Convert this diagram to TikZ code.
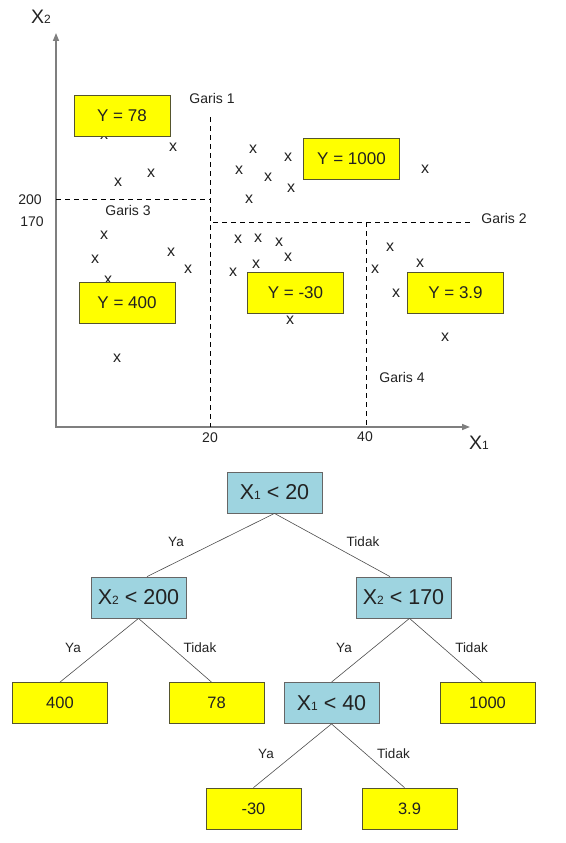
\documentclass[tikz,border=0pt]{standalone}
\usepackage{fontspec}
\setmainfont{Liberation Sans}
\usetikzlibrary{arrows.meta}
\definecolor{kuning}{HTML}{FFFF00}
\definecolor{biru}{HTML}{9ED4E0}
\definecolor{garisbox}{HTML}{55552E}
\definecolor{sumbu}{HTML}{7F7F7F}
\definecolor{teks}{HTML}{222222}
\newcommand{\fs}[1]{\fontsize{#1}{#1}\selectfont}
\newcommand{\sub}[1]{{\fontsize{12}{12}\selectfont #1}}

\begin{document}
\begin{tikzpicture}[x=1pt,y=-1pt,
    every node/.style={text=teks},
    ybox/.style={draw=garisbox,fill=kuning,line width=0.8pt,minimum width=96pt,minimum height=41pt,inner sep=0pt,font=\fs{17}},
    leaf/.style={ybox,minimum width=95pt,font=\fs{16.5}},
    uji/.style={draw=black!60,fill=biru,line width=0.8pt,minimum width=95pt,minimum height=41pt,inner sep=0pt,font=\fs{21.5}},
    garis/.style={dash pattern=on 5pt off 4pt,line width=0.7pt},
    lbl/.style={font=\fs{14}},
    ket/.style={font=\fs{13.5}},
    tanda/.style={font=\fs{16},inner sep=0pt},
    cab/.style={draw=black!70,line width=0.6pt}]
        \useasboundingbox (0,0) rectangle (565,843);

        % sumbu
        \coordinate (ujungy) at (56,33);
        \coordinate (o) at (56,427);
        \coordinate (ujungx) at (470,427);
        \draw[sumbu,line width=1.5pt,{Triangle[length=8pt,width=6pt]}-{Triangle[length=8pt,width=6pt]}] (ujungy) -- (o) -- (ujungx);

        \node[font=\fs{19.5}] (lx2) at (41,17) {X\sub{2}};
        \node[font=\fs{19.5}] (lx1) at (479,443) {X\sub{1}};
        \node[lbl] (t200) at (30,200) {200};
        \node[lbl] (t170) at (32,222) {170};
        \node[lbl] (t20) at (210,438) {20};
        \node[lbl] (t40) at (365,437) {40};

        % garis pemisah
        \draw[garis] (210,117) -- (210,427);
        \draw[garis] (56,199) -- (210,199);
        \draw[garis] (213,222) -- (472,222);
        \draw[garis] (366,222) -- (366,427);

        \node[lbl] (g1) at (212,98) {Garis 1};
        \node[lbl] (g3) at (128,210) {Garis 3};
        \node[lbl] (g2) at (504,218) {Garis 2};
        \node[lbl] (g4) at (402,377) {Garis 4};

        % data
        \foreach \p in {(104,135),(173,147),(118,182),(151,173),
                        (253,149),(288,157),(239,170),(268,177),(291,188),(249,199),(425,169),
                        (238,239),(258,238),(279,242),(288,257),(256,264),(233,272),(290,320),
                        (390,247),(420,263),(375,269),(396,293),(445,337),
                        (104,235),(95,259),(108,280),(171,252),(188,269),(117,358)}
            \node[tanda] at \p {x};

        \node[ybox] (y78) at (122,115.5) {Y = 78};
        \node[ybox] (y1000) at (351.5,158.5) {Y = 1000};
        \node[ybox] (ym30) at (295.5,292.5) {Y = -30};
        \node[ybox] (y39) at (455.5,292.5) {Y = 3.9};
        \node[ybox] (y400) at (127,302.5) {Y = 400};

        % pohon
        \node[uji] (s20) at (274.5,492.5) {X\sub{1} < 20};
        \node[uji] (s200) at (138.5,597.5) {X\sub{2} < 200};
        \node[uji] (s170) at (403.5,597.5) {X\sub{2} < 170};
        \node[leaf] (v400) at (60,703) {400};
        \node[leaf] (v78) at (216.5,703) {78};
        \node[uji] (s40) at (331.5,703) {X\sub{1} < 40};
        \node[leaf] (v1000) at (487.5,703) {1000};
        \node[leaf] (vm30) at (253.5,808.5) {-30};
        \node[leaf] (v39) at (409.5,808.5) {3.9};

        \draw[cab] (s20.south) -- ([xshift=8.5pt]s200.north);
        \draw[cab] (s20.south) -- ([xshift=-13.5pt]s170.north);
        \draw[cab] (s200.south) -- (v400.north);
        \draw[cab] (s200.south) -- ([xshift=-5pt]v78.north);
        \draw[cab] ([xshift=6pt]s170.south) -- (s40.north);
        \draw[cab] ([xshift=6pt]s170.south) -- ([xshift=-5pt]v1000.north);
        \draw[cab] (s40.south) -- (vm30.north);
        \draw[cab] (s40.south) -- ([xshift=-5pt]v39.north);

        \node[ket] (ya1) at (176,542) {Ya};
        \node[ket] (td1) at (363,542) {Tidak};
        \node[ket] (ya2) at (73,648) {Ya};
        \node[ket] (td2) at (200,648) {Tidak};
        \node[ket] (ya3) at (344,648) {Ya};
        \node[ket] (td3) at (471.5,648) {Tidak};
        \node[ket] (ya4) at (266,754) {Ya};
        \node[ket] (td4) at (393.5,754) {Tidak};

    \end{tikzpicture}
\end{document}
